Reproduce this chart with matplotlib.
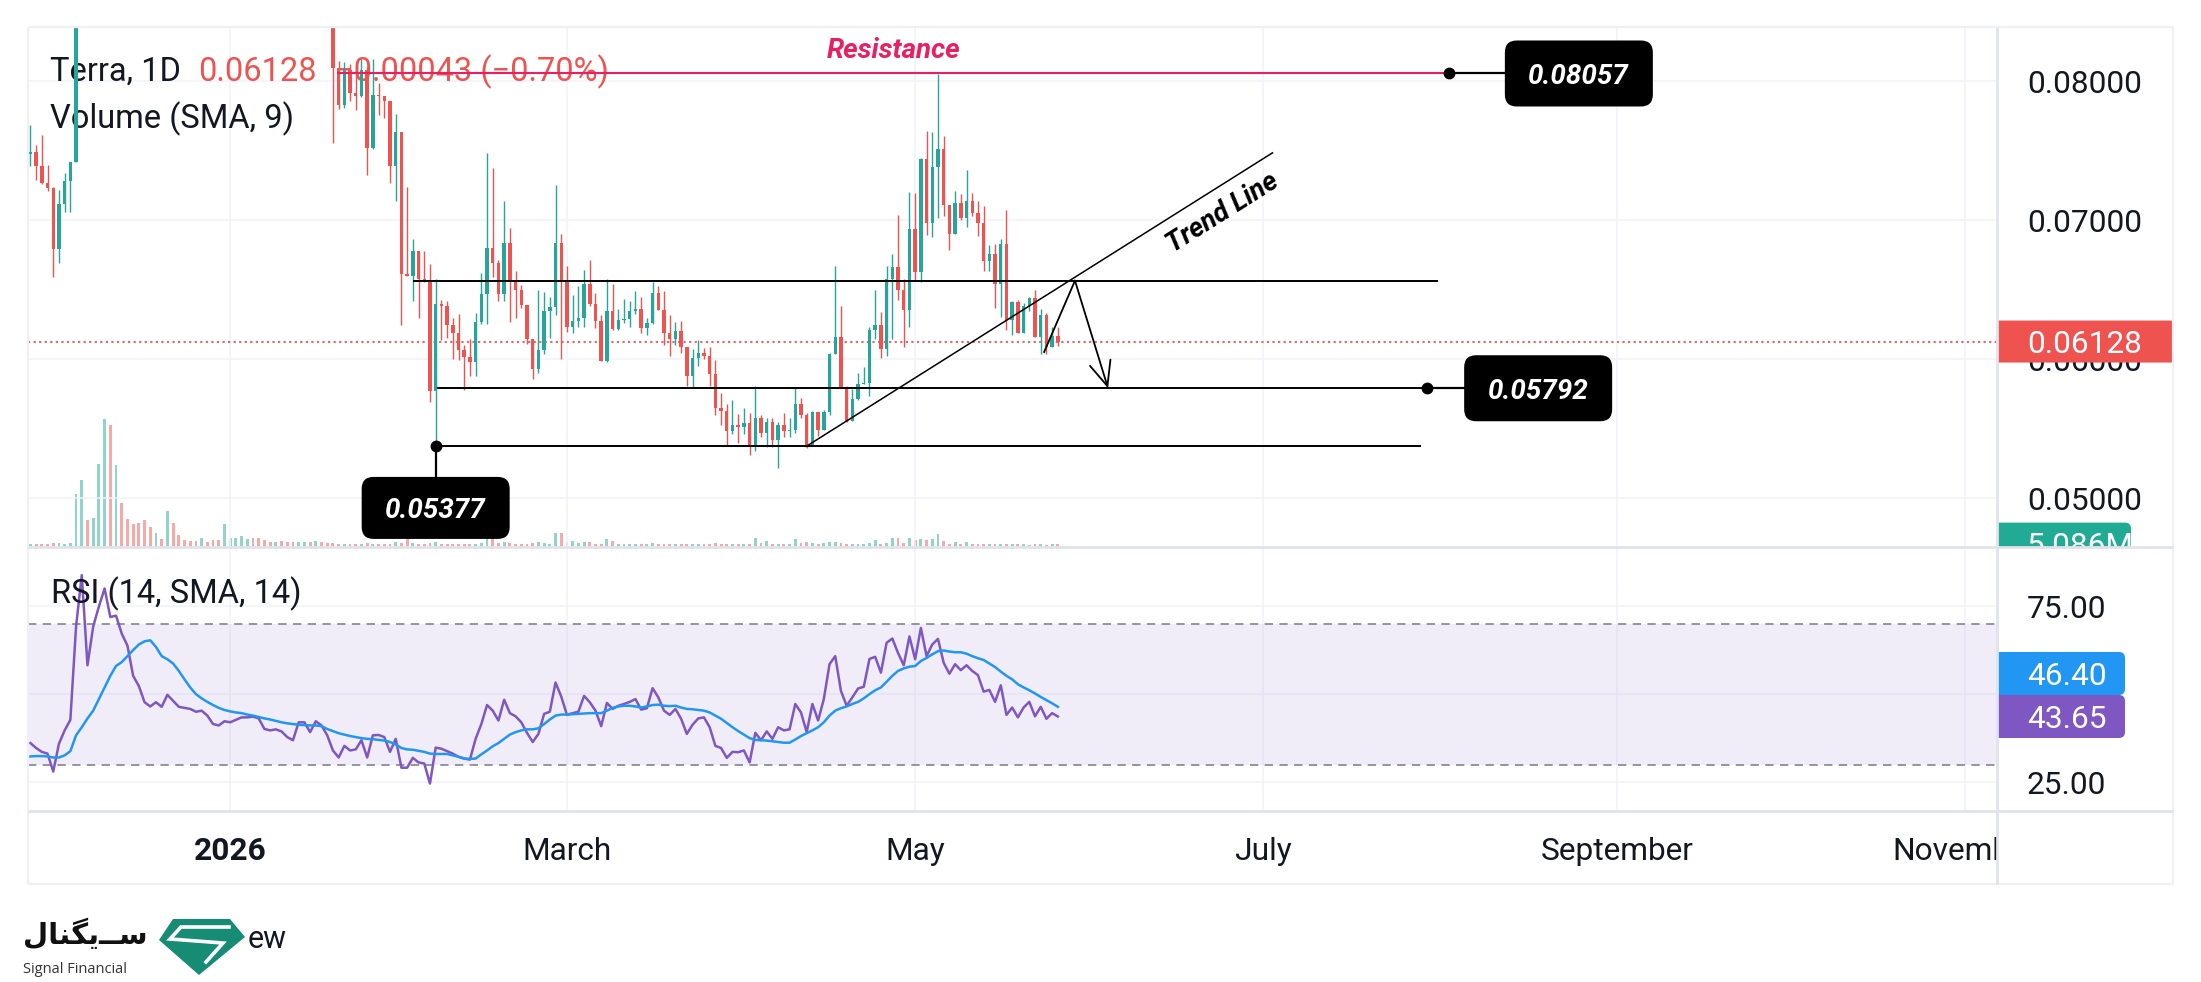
import numpy as np
import pandas as pd
import matplotlib
matplotlib.use("Agg")
import matplotlib.pyplot as plt
import matplotlib.dates as mdates
from matplotlib.patches import FancyBboxPatch, Polygon
from matplotlib.transforms import blended_transform_factory

W, H = 2201, 982
DPI = 100

plt.rcParams["font.family"] = ["Roboto", "DejaVu Sans"]
plt.rcParams["lines.scale_dashes"] = False

# ---------------- data (daily candles, first one on 2025-11-27) ----------------
FIRST_DAY = "2025-11-27"
FIRST_OPEN = 0.07475

closes = [
    0.07490, 0.07390, 0.07269, 0.07232, 0.06795, 0.07115, 0.07281, 0.07420,
    0.09250, 0.10100, 0.09750, 0.10050, 0.10800, 0.11500, 0.10700, 0.11200,
    0.10800, 0.10500, 0.10300, 0.10000, 0.09750, 0.09600, 0.09850, 0.09700,
    0.10100, 0.09850, 0.09650, 0.09550, 0.09450, 0.09350, 0.09500, 0.09400,
    0.09300, 0.09200, 0.09500, 0.09600, 0.09700, 0.09850, 0.09950, 0.09750,
    0.09600, 0.09450, 0.09350, 0.09450, 0.09300, 0.09150, 0.09000, 0.09100,
    0.09200, 0.09050, 0.09150, 0.08950, 0.08800, 0.08093, 0.07831, 0.08080,
    0.07917, 0.07897, 0.08080, 0.07523, 0.07905, 0.07892, 0.07860, 0.07391,
    0.07636, 0.06614, 0.06601, 0.06778, 0.06577, 0.06565, 0.05770, 0.06399,
    0.06386, 0.06247, 0.06186, 0.06064, 0.06015, 0.05983, 0.06271, 0.06472,
    0.06804, 0.06692, 0.06472, 0.06834, 0.06565, 0.06496, 0.06394, 0.06149,
    0.05929, 0.06064, 0.06345, 0.06374, 0.06839, 0.06565, 0.06235, 0.06276,
    0.06300, 0.06545, 0.06399, 0.06276, 0.05990, 0.06350, 0.06218, 0.06284,
    0.06291, 0.06350, 0.06362, 0.06222, 0.06259, 0.06479, 0.06357, 0.06193,
    0.06144, 0.06203, 0.06088, 0.05880, 0.06007, 0.06044, 0.06022, 0.05893,
    0.05653, 0.05631, 0.05482, 0.05531, 0.05514, 0.05543, 0.05379, 0.05575,
    0.05470, 0.05550, 0.05416, 0.05526, 0.05482, 0.05489, 0.05677, 0.05599,
    0.05379, 0.05624, 0.05489, 0.05624, 0.06039, 0.06161, 0.05795, 0.05555,
    0.05714, 0.05819, 0.05831, 0.06210, 0.06247, 0.06071, 0.06577, 0.06663,
    0.06496, 0.06357, 0.06936, 0.06626, 0.07445, 0.06980, 0.07384, 0.07511,
    0.07108, 0.06902, 0.07127, 0.07017, 0.07139, 0.07054, 0.06980, 0.06707,
    0.06760, 0.06545, 0.06829, 0.06284, 0.06411, 0.06193, 0.06381, 0.06443,
    0.06161, 0.06320, 0.06088, 0.06171, 0.06128,
]

highs = [
    0.07685, 0.07543, 0.07616, 0.07401, 0.07237, 0.07218, 0.07340, 0.07420,
    0.09600, 0.10600, 0.10400, 0.10300, 0.11100, 0.11900, 0.11700, 0.11500,
    0.11300, 0.10900, 0.10600, 0.10400, 0.10100, 0.09850, 0.09950, 0.09900,
    0.10300, 0.10150, 0.09900, 0.09700, 0.09600, 0.09500, 0.09600, 0.09550,
    0.09450, 0.09350, 0.09650, 0.09700, 0.09800, 0.09950, 0.10050, 0.10000,
    0.09800, 0.09650, 0.09500, 0.09550, 0.09500, 0.09350, 0.09200, 0.09200,
    0.09300, 0.09250, 0.09250, 0.09200, 0.09000, 0.08850, 0.08149, 0.08137,
    0.08125, 0.08080, 0.08161, 0.08105, 0.08161, 0.07990, 0.07892, 0.07860,
    0.07768, 0.07636, 0.07242, 0.06863, 0.06778, 0.06778, 0.06687, 0.06577,
    0.06430, 0.06418, 0.06301, 0.06325, 0.06100, 0.06149, 0.06332, 0.06619,
    0.07487, 0.07379, 0.06716, 0.07139, 0.06944, 0.06638, 0.06533, 0.06394,
    0.06149, 0.06499, 0.06484, 0.06447, 0.07254, 0.06902, 0.06675, 0.06462,
    0.06528, 0.06643, 0.06716, 0.06479, 0.06320, 0.06577, 0.06545, 0.06362,
    0.06435, 0.06418, 0.06491, 0.06447, 0.06296, 0.06557, 0.06528, 0.06491,
    0.06320, 0.06271, 0.06276, 0.06088, 0.06076, 0.06137, 0.06078, 0.06088,
    0.05995, 0.05758, 0.05677, 0.05710, 0.05604, 0.05648, 0.05611, 0.05807,
    0.05599, 0.05575, 0.05575, 0.05550, 0.05611, 0.05575, 0.05799, 0.05721,
    0.05611, 0.05628, 0.05624, 0.05636, 0.06044, 0.06675, 0.06381, 0.05807,
    0.05788, 0.05899, 0.05946, 0.06235, 0.06499, 0.06340, 0.06675, 0.06760,
    0.07042, 0.06577, 0.07205, 0.07200, 0.07450, 0.07645, 0.07633, 0.08056,
    0.07609, 0.07108, 0.07213, 0.07188, 0.07364, 0.07196, 0.07139, 0.07103,
    0.06822, 0.06829, 0.06863, 0.07078, 0.06418, 0.06430, 0.06406, 0.06450,
    0.06499, 0.06362, 0.06332, 0.06235, 0.06235,
]

lows = [
    0.07391, 0.07293, 0.07264, 0.07213, 0.06589, 0.06692, 0.07061, 0.07061,
    0.07420, 0.09150, 0.09500, 0.09600, 0.09900, 0.10600, 0.10400, 0.10500,
    0.10600, 0.10300, 0.10100, 0.09850, 0.09600, 0.09450, 0.09550, 0.09600,
    0.09650, 0.09750, 0.09550, 0.09450, 0.09350, 0.09250, 0.09300, 0.09300,
    0.09200, 0.09100, 0.09150, 0.09450, 0.09550, 0.09650, 0.09800, 0.09700,
    0.09550, 0.09400, 0.09300, 0.09300, 0.09250, 0.09100, 0.08950, 0.08950,
    0.09050, 0.09000, 0.09000, 0.08900, 0.08600, 0.07555, 0.07800, 0.07807,
    0.07861, 0.07795, 0.07885, 0.07328, 0.07511, 0.07758, 0.07738, 0.07269,
    0.07139, 0.06247, 0.06601, 0.06418, 0.06296, 0.06560, 0.05690, 0.05377,
    0.06137, 0.06154, 0.06002, 0.05995, 0.05782, 0.05880, 0.05880, 0.06252,
    0.06252, 0.06594, 0.06423, 0.06423, 0.06271, 0.06301, 0.06369, 0.06112,
    0.05856, 0.05900, 0.06039, 0.06154, 0.06320, 0.06002, 0.06198, 0.06186,
    0.06235, 0.06235, 0.06386, 0.06222, 0.05990, 0.05978, 0.06210, 0.06210,
    0.06259, 0.06235, 0.06325, 0.06193, 0.06173, 0.06254, 0.06357, 0.06100,
    0.06022, 0.06100, 0.06046, 0.05807, 0.05795, 0.05954, 0.06002, 0.05807,
    0.05599, 0.05531, 0.05379, 0.05460, 0.05399, 0.05465, 0.05311, 0.05342,
    0.05440, 0.05372, 0.05372, 0.05215, 0.05440, 0.05440, 0.05467, 0.05575,
    0.05362, 0.05379, 0.05445, 0.05489, 0.05599, 0.06039, 0.05795, 0.05550,
    0.05555, 0.05709, 0.05819, 0.05738, 0.06149, 0.06010, 0.06027, 0.06149,
    0.06430, 0.06088, 0.06235, 0.06565, 0.06560, 0.06895, 0.06883, 0.07017,
    0.07034, 0.06785, 0.06902, 0.07005, 0.06951, 0.07029, 0.06888, 0.06638,
    0.06638, 0.06369, 0.06308, 0.06210, 0.06178, 0.06186, 0.06193, 0.06350,
    0.06161, 0.06039, 0.06039, 0.06088, 0.06093,
]

# volume in millions
volumes = [
    4.1, 4.1, 4.1, 4.1, 5.6, 5.6, 4.1, 5.6,
    80, 100, 41, 44, 124, 192, 183, 123,
    66, 42, 34, 36, 41, 30, 21, 12,
    54, 36, 18, 11, 9, 9, 13, 8,
    11, 11, 34, 13, 13, 16, 12, 13,
    13, 11, 8, 7, 9, 7, 7, 8,
    8, 7, 9, 7, 6, 6, 5, 5,
    5, 5, 5, 6, 5, 5, 5, 5,
    8, 6, 13, 6, 5, 5, 6, 8,
    5, 5, 5, 5, 5, 4, 5, 6,
    27, 19, 6, 8, 6, 5, 5, 5,
    6, 8, 6, 5, 21, 21, 8, 9,
    6, 7, 7, 5, 5, 12, 9, 5,
    4, 4, 5, 5, 4, 6, 5, 5,
    4, 4, 5, 5, 4, 4, 5, 4,
    6, 5, 4, 5, 4, 4, 5, 13,
    6, 9, 5, 5, 4, 5, 12, 6,
    8, 6, 5, 6, 7, 7, 6, 5,
    5, 5, 4, 6, 11, 4, 6, 13,
    13, 6, 13, 10, 12, 10, 12, 19,
    9, 5, 7, 5, 8, 5, 5, 4,
    4, 4, 4, 4, 4, 4, 4, 3,
    4, 4, 3, 4, 5.086,
]

rsi = [
    36.1, 34.7, 33.6, 33.1, 28.0, 35.9, 39.7, 42.7,
    69.2, 83.8, 58.2, 69.2, 74.9, 80.0, 71.9, 72.3,
    67.2, 63.8, 55.2, 52.3, 47.7, 46.5, 47.7, 46.4,
    49.8, 48.1, 46.4, 46.1, 45.8, 45.0, 45.3, 43.9,
    41.5, 41.1, 42.3, 42.0, 42.7, 43.4, 43.4, 43.6,
    43.1, 40.1, 39.7, 40.0, 39.4, 37.8, 36.9, 42.0,
    42.0, 39.2, 42.3, 41.1, 38.3, 34.0, 32.0, 35.3,
    34.0, 34.3, 36.9, 32.0, 38.3, 38.4, 37.8, 33.6,
    37.3, 29.1, 29.1, 31.9, 30.6, 30.3, 24.6, 34.8,
    34.5, 33.8, 33.1, 32.2, 31.7, 31.4, 37.3, 41.5,
    46.9, 45.3, 42.5, 48.4, 44.6, 43.7, 42.0, 39.0,
    36.4, 38.7, 44.4, 45.0, 53.3, 49.3, 44.1, 44.6,
    45.0, 49.5, 47.7, 45.3, 40.9, 47.5, 45.8, 46.7,
    47.2, 47.8, 48.6, 45.6, 46.0, 51.7, 49.1, 45.3,
    44.1, 45.8, 43.0, 38.7, 41.3, 43.1, 43.4, 40.6,
    35.3, 34.7, 31.9, 33.6, 33.5, 34.0, 30.6, 39.0,
    36.9, 39.4, 37.3, 40.6, 39.7, 40.0, 47.2, 44.8,
    39.2, 47.2, 42.5, 48.6, 58.5, 60.8, 50.9, 46.7,
    49.1, 51.6, 52.1, 60.0, 60.6, 56.1, 64.6, 65.8,
    61.7, 58.2, 66.4, 59.9, 68.8, 60.8, 64.1, 65.7,
    58.9, 55.8, 58.5, 56.8, 58.2, 56.6, 55.4, 50.7,
    51.2, 47.8, 52.5, 44.1, 46.2, 43.4, 46.2, 47.8,
    43.7, 46.4, 43.0, 44.6, 43.65,
]

rsi_sma = [
    32.3, 32.4, 32.4, 32.3, 32.0, 32.0, 32.6, 33.8,
    38.3, 40.6, 43.1, 45.3, 48.6, 51.9, 55.2, 58.0,
    59.1, 60.8, 62.5, 64.1, 65.0, 65.3, 63.4, 60.8,
    59.9, 58.7, 56.6, 54.2, 51.9, 50.0, 48.8, 47.8,
    46.9, 46.1, 45.5, 45.1, 44.8, 44.6, 44.2, 43.9,
    43.5, 43.1, 42.8, 42.4, 42.0, 41.7, 41.5, 41.3,
    41.2, 41.1, 41.1, 40.9, 40.1, 39.5, 38.9, 38.5,
    38.1, 37.8, 37.5, 37.3, 37.2, 37.0, 36.8, 36.4,
    35.7, 34.7, 34.3, 34.2, 33.9, 33.6, 33.1, 33.0,
    33.0, 33.0, 32.6, 32.2, 31.7, 31.6, 31.7, 32.9,
    34.0, 35.2, 36.1, 37.3, 38.5, 39.2, 39.7, 40.0,
    40.0, 40.3, 41.5, 42.8, 43.9, 44.2, 44.2, 44.3,
    44.4, 44.5, 44.6, 44.6, 44.6, 45.3, 46.1, 46.5,
    46.7, 46.7, 46.5, 46.2, 46.5, 46.9, 47.0, 46.7,
    46.6, 46.7, 46.2, 45.8, 45.7, 45.5, 45.3, 44.8,
    43.9, 43.0, 41.8, 40.6, 39.5, 38.5, 37.5, 37.0,
    36.9, 36.8, 36.6, 36.4, 36.2, 36.2, 37.1, 38.1,
    38.9, 39.7, 40.6, 42.0, 43.9, 45.3, 46.0, 46.5,
    47.2, 47.8, 48.8, 50.0, 51.1, 51.9, 53.5, 55.2,
    56.6, 57.3, 57.8, 58.0, 59.4, 60.3, 61.3, 62.2,
    62.4, 62.1, 61.9, 61.9, 61.5, 60.8, 60.2, 59.7,
    58.7, 57.7, 56.4, 55.2, 54.2, 52.8, 51.9, 51.1,
    50.2, 49.2, 48.3, 47.4, 46.40,
]

month_starts = ["2026-01-01", "2026-03-01", "2026-05-01", "2026-07-01", "2026-09-01", "2026-11-01"]
month_labels = ["2026", "March", "May", "July", "September", "November"]
price_ticks = [0.05, 0.06, 0.07, 0.08]
rsi_grid = [25, 50, 75]
rsi_labels = [25, 75]

symbol = "Terra, 1D"
last_price = 0.06128
change = -0.00043
change_pct = -0.70
last_volume_label = "5.086M"

# hand-drawn levels: price, and (start, end) in days from 2026-01-01
resistance = 0.08057
range_top = 0.06566
target = 0.05792
support = 0.05377
resistance_days = (18.7, 213.5)
range_top_days = (32.0, 211.6)
target_days = (36.3, 209.7)
support_days = (36.0, 208.6)
trend_start = (100.9, 0.05373)
trend_end = (182.6, 0.07486)
path_start = (142.6, 0.06053)
path_peak_day = 148.0
path_end_day = 153.8

# ---------------- styles ----------------
GREEN = "#26a69a"
RED = "#ef5350"
GREEN_V = "#92d3cc"
RED_V = "#f7a9a7"
PINK = "#e91e63"
PURPLE = "#7e57c2"
BLUE = "#2196f3"
DARK = "#131722"
GRID = "#f0f3fa"
FRAME = "#e0e3eb"
AXIS_FS = 22.8

JAN1 = mdates.date2num(np.datetime64("2026-01-01"))


def day(d):
    return JAN1 + d


def rect(x0, y0, x1, y1):
    return [x0 / W, 1 - y1 / H, (x1 - x0) / W, (y1 - y0) / H]


PANE_L, PANE_R, AX_R = 28, 1997, 2173
P_TOP, P_BOT, R_BOT, T_BOT = 27, 547, 811, 884

fig = plt.figure(figsize=(W / DPI, H / DPI), dpi=DPI)
fig.patch.set_facecolor("white")

ax_p = fig.add_axes(rect(PANE_L, P_TOP, PANE_R, P_BOT))
ax_v = ax_p.twinx()
ax_r = fig.add_axes(rect(PANE_L, P_BOT, PANE_R, R_BOT), sharex=ax_p)
ax_t = fig.add_axes(rect(PANE_L, R_BOT, PANE_R, T_BOT), sharex=ax_p)
ax_pa = fig.add_axes(rect(PANE_R, P_TOP, AX_R, P_BOT))
ax_ra = fig.add_axes(rect(PANE_R, P_BOT, AX_R, R_BOT))
ax_o = fig.add_axes([0, 0, 1, 1])

ax_v.set_zorder(0.5)
ax_p.set_zorder(1)
ax_o.set_zorder(10)
for a in (ax_p, ax_v, ax_r, ax_t, ax_pa, ax_ra, ax_o):
    a.set_axis_off()

ax_p.set_xlim(day(-35.42), day(309.53))
ax_p.set_ylim(0.046496, 0.083915)
ax_v.set_ylim(0, 781)
ax_r.set_ylim(16.8, 91.8)
ax_pa.set_xlim(0, AX_R - PANE_R)
ax_pa.set_ylim(ax_p.get_ylim())
ax_ra.set_xlim(0, AX_R - PANE_R)
ax_ra.set_ylim(ax_r.get_ylim())
ax_t.set_ylim(0, 1)
ax_o.set_xlim(0, W)
ax_o.set_ylim(H, 0)

px_per_price = (P_BOT - P_TOP) / (ax_p.get_ylim()[1] - ax_p.get_ylim()[0])
px_per_rsi = (R_BOT - P_BOT) / (ax_r.get_ylim()[1] - ax_r.get_ylim()[0])

# ---------------- candles + volume ----------------
n = len(closes)
dates = pd.date_range(FIRST_DAY, periods=n, freq="D")
x = mdates.date2num(dates.to_numpy())
c = np.array(closes)
o = np.array([FIRST_OPEN] + closes[:-1])
hi = np.array(highs)
lo = np.array(lows)
up = c >= o
ccol = np.where(up, GREEN, RED)
vcol = np.where(up, GREEN_V, RED_V)

months = mdates.date2num(np.array(month_starts, dtype="datetime64[D]"))
for p in price_ticks:
    ax_p.axhline(p, color=GRID, lw=1.1, zorder=0)
for m in months:
    ax_p.axvline(m, color=GRID, lw=1.1, zorder=0)
    ax_r.axvline(m, color=GRID, lw=1.1, zorder=0)

ax_v.bar(x, volumes, width=0.5, color=vcol, lw=0)
ax_p.vlines(x, lo, hi, colors=ccol, lw=1.0, zorder=3)
ax_p.bar(x, np.maximum(np.abs(c - o), 0.00008), bottom=np.minimum(o, c), width=0.6,
         color=ccol, lw=0, zorder=4)
ax_p.axhline(last_price, color=RED, lw=1.3, dashes=(1.6, 2.4), zorder=2)

# ---------------- drawings ----------------
ax_p.hlines(resistance, day(resistance_days[0]), day(resistance_days[1]), color=PINK, lw=1.5, zorder=5)
ax_p.hlines(range_top, day(range_top_days[0]), day(range_top_days[1]), color="black", lw=1.4, zorder=5)
ax_p.hlines(target, day(target_days[0]), day(target_days[1]), color="black", lw=1.4, zorder=5)
ax_p.hlines(support, day(support_days[0]), day(support_days[1]), color="black", lw=1.4, zorder=5)
ax_p.plot([day(trend_start[0]), day(trend_end[0])], [trend_start[1], trend_end[1]],
          color="black", lw=1.1, zorder=5)
ax_p.plot([day(path_start[0]), day(path_peak_day)], [path_start[1], range_top],
          color="black", lw=1.3, zorder=5)
ax_p.annotate("", xy=(day(path_end_day), target), xytext=(day(path_peak_day), range_top),
              arrowprops=dict(arrowstyle="->,head_length=0.8,head_width=0.35", color="black",
                              lw=1.3, shrinkA=0, shrinkB=0, mutation_scale=22), zorder=5)
dots = [(day(resistance_days[1]), resistance), (day(target_days[1]), target),
        (day(support_days[0]), support)]
for dx, dy in dots:
    ax_p.plot([dx], [dy], "o", ms=7.5, color="black", zorder=6)

ax_p.text(day(116.3), 0.08168, "Resistance", color=PINK, fontsize=20, fontweight="bold",
          fontstyle="italic", ha="center", va="baseline", zorder=6)
ax_p.text(day(173.9), 0.07057, "Trend Line", color="black", fontsize=19.5, fontweight="bold",
          fontstyle="italic", rotation=32.2, rotation_mode="anchor", ha="center", va="center", zorder=6)


def to_px(ax, xd, yd):
    disp = ax.transData.transform((xd, yd))
    return ax_o.transData.inverted().transform(disp)


def value_box(cx, cy, w, h, text):
    ax_o.add_patch(FancyBboxPatch((cx - w / 2, cy - h / 2), w, h,
                                  boxstyle="round,pad=0,rounding_size=12",
                                  fc="black", ec="none", zorder=8))
    ax_o.text(cx, cy, text, color="white", fontsize=20, fontweight="bold", fontstyle="italic",
              ha="center", va="center_baseline", zorder=9)


rx, ry = to_px(ax_p, *dots[0])
ax_o.plot([rx, rx + 56], [ry, ry], color="black", lw=1.6, zorder=7)
value_box(rx + 56 + 74, ry, 148, 66, f"{resistance:.5f}")

tx, ty = to_px(ax_p, *dots[1])
ax_o.plot([tx, tx + 37], [ty, ty], color="black", lw=1.6, zorder=7)
value_box(tx + 37 + 74, ty, 148, 66, f"{target:.5f}")

sx, sy = to_px(ax_p, *dots[2])
ax_o.plot([sx, sx], [sy, sy + 31], color="black", lw=1.6, zorder=7)
value_box(sx, sy + 31 + 31, 148, 62, f"{support:.5f}")

# ---------------- legends ----------------
minus = "\u2212"
ax_p.text(50, 81, symbol, transform=ax_o.transData, fontsize=23.5, color=DARK, zorder=1)
ax_p.text(198, 81, f"{last_price:.5f}", transform=ax_o.transData, fontsize=23.5, color=RED, zorder=1)
ax_p.text(335, 81, f"{change:+.5f} ({change_pct:+.2f}%)".replace("-", minus),
          transform=ax_o.transData, fontsize=23.5, color=RED, zorder=1)
ax_p.text(50, 128, "Volume (SMA, 9)", transform=ax_o.transData, fontsize=23.5, color=DARK, zorder=1)

# ---------------- RSI pane ----------------
for r in rsi_grid:
    ax_r.axhline(r, color=GRID, lw=1.1, zorder=0)
ax_r.axhspan(30, 70, color=PURPLE, alpha=0.1, lw=0, zorder=0.5)
for r in (30, 70):
    ax_r.axhline(r, color="#787b86", lw=1.1, dashes=(6, 4.6), zorder=1)
ax_r.plot(x, rsi, color=PURPLE, lw=1.8, zorder=3)
ax_r.plot(x, rsi_sma, color=BLUE, lw=1.8, zorder=4)
ax_r.text(51, 603, "RSI (14, SMA, 14)", transform=ax_o.transData, fontsize=23.5, color=DARK, zorder=5)

# ---------------- time axis ----------------
tt = blended_transform_factory(ax_t.transData, ax_t.transAxes)
for m, lab in zip(months, month_labels):
    ax_t.text(m, (T_BOT - 860) / (T_BOT - R_BOT), lab, transform=tt, ha="center", va="baseline",
              fontsize=AXIS_FS, color=DARK, fontweight="bold" if lab == "2026" else "normal",
              clip_on=True)

# ---------------- price scale ----------------
for p in price_ticks:
    ax_pa.text(30, p, f"{p:.5f}", fontsize=AXIS_FS, color=DARK, va="center_baseline", zorder=2,
               clip_on=True)


def scale_box(ax, yc, h_units, w, color, text, aspect):
    ax.add_patch(FancyBboxPatch((-14, yc - h_units / 2), w + 14, h_units,
                                boxstyle="round,pad=0,rounding_size=6", mutation_aspect=aspect,
                                fc=color, ec="none", zorder=3))
    ax.text(30, yc, text, fontsize=AXIS_FS, color="white", va="center_baseline", zorder=4,
            clip_on=True)


scale_box(ax_pa, last_price, 42 / px_per_price, 179, RED, f"{last_price:.5f}", 1 / px_per_price)
vol_disp = ax_v.transData.transform((x[-1], volumes[-1]))
vol_y = ax_pa.transData.inverted().transform(vol_disp)[1]
scale_box(ax_pa, vol_y, 42 / px_per_price, 134, "#22ab94", last_volume_label, 1 / px_per_price)

for r in rsi_labels:
    ax_ra.text(30, r, f"{r:.2f}", fontsize=AXIS_FS, color=DARK, va="center_baseline", zorder=2)
box_h = 43 / px_per_rsi
rsi_y = rsi[-1]
sma_y = max(rsi_sma[-1], rsi_y + box_h)
scale_box(ax_ra, sma_y, box_h, 128, BLUE, f"{rsi_sma[-1]:.2f}", 1 / px_per_rsi)
scale_box(ax_ra, rsi_y, box_h, 128, PURPLE, f"{rsi[-1]:.2f}", 1 / px_per_rsi)

# ---------------- frame ----------------
for (x0, y0, x1, y1, col, lw) in [
    (PANE_L, P_TOP, AX_R, P_TOP, "#eef0f4", 1.6),
    (PANE_L, T_BOT, AX_R, T_BOT, "#eef0f4", 1.6),
    (PANE_L, P_TOP, PANE_L, T_BOT, "#eef0f4", 1.6),
    (AX_R, P_TOP, AX_R, T_BOT, "#eef0f4", 1.6),
    (PANE_L, P_BOT, AX_R, P_BOT, FRAME, 2.0),
    (PANE_L, R_BOT, AX_R, R_BOT, FRAME, 2.0),
    (PANE_R, P_TOP, PANE_R, T_BOT, FRAME, 2.0),
]:
    ax_o.plot([x0, x1], [y0, y1], color=col, lw=lw, zorder=1, solid_capstyle="butt")

# ---------------- logo ----------------
fa_word = "\uFEDD\uFE8E\uFEE8\uFB95\uFBFE\u0640\u0640\uFEB3"  # سیگنال, shaped for LTR drawing
ax_o.text(85, 944, fa_word, ha="center", va="baseline", fontsize=21, fontweight="bold",
          family=["DejaVu Sans"], color="#111111")
ax_o.text(23, 973, "Signal Financial", ha="left", va="baseline", fontsize=10.5,
          family=["Open Sans", "DejaVu Sans"], color="#333333")
ax_o.add_patch(Polygon([(173, 919), (230, 919), (245, 937), (199, 975), (159, 940)],
                       closed=True, fc="#168c74", ec="none"))
ax_o.plot([229, 181, 170, 223, 206], [927, 927, 939, 943, 962], color="white", lw=2.6,
          solid_joinstyle="miter")
ax_o.text(248, 948, "ew", ha="left", va="baseline", fontsize=22, color=DARK)

fig.savefig("out.png", dpi=DPI, facecolor="white")
